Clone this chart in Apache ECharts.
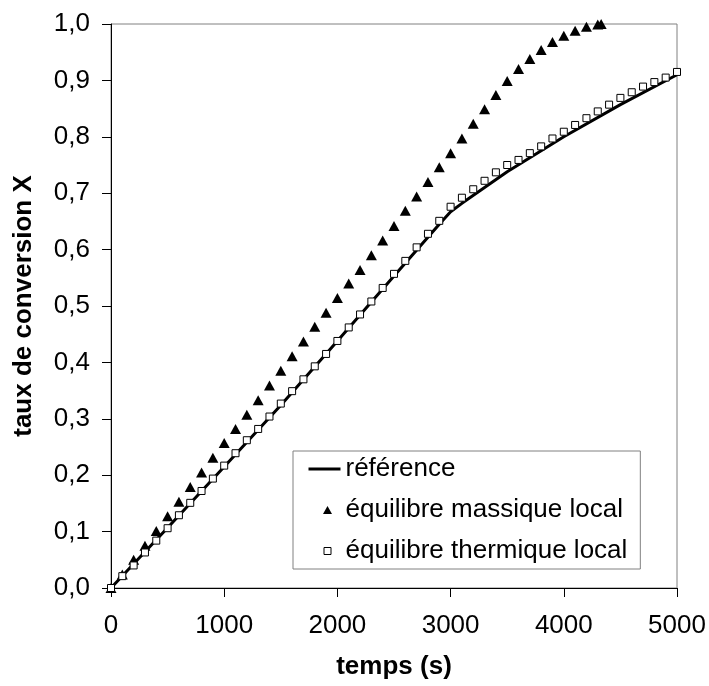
<!DOCTYPE html>
<html>
<head>
<meta charset="utf-8">
<script src="https://cdn.jsdelivr.net/npm/echarts@6/dist/echarts.min.js"></script>
<style>
html,body{margin:0;padding:0;background:#fff;}
#chart{width:709px;height:686px;}
</style>
</head>
<body>
<div id="chart"></div>
<script>
// Reference curve (time s, conversion X)
const refTime = [0, 500, 1000, 1500, 2000, 2500, 2900, 3000, 3100, 3500, 4000, 4500, 5000];
const refX    = [0, 0.107, 0.215, 0.324, 0.438, 0.553, 0.645, 0.667, 0.682, 0.738, 0.800, 0.857, 0.910];

// équilibre massique local (triangles)
const massTime = [0,100,200,300,400,500,600,700,800,900,1000,1100,1200,1300,1400,1500,1600,1700,1800,1900,2000,2100,2200,2300,2400,2500,2600,2700,2800,2900,3000,3100,3200,3300,3400,3500,3600,3700,3800,3900,4000,4100,4200,4300,4330];
const massX    = [0,0.024,0.050,0.075,0.101,0.127,0.153,0.179,0.205,0.231,0.257,0.282,0.307,0.333,0.359,0.385,0.411,0.437,0.463,0.488,0.514,0.540,0.564,0.590,0.616,0.642,0.669,0.694,0.720,0.746,0.771,0.797,0.823,0.849,0.874,0.899,0.920,0.938,0.954,0.968,0.979,0.988,0.995,0.999,1.0];

// équilibre thermique local (open squares)
const thermTime = [0,100,200,300,400,500,600,700,800,900,1000,1100,1200,1300,1400,1500,1600,1700,1800,1900,2000,2100,2200,2300,2400,2500,2600,2700,2800,2900,3000,3100,3200,3300,3400,3500,3600,3700,3800,3900,4000,4100,4200,4300,4400,4500,4600,4700,4800,4900,5000];
const thermX    = [0,0.021,0.040,0.063,0.084,0.106,0.129,0.151,0.172,0.194,0.217,0.239,0.262,0.282,0.304,0.327,0.349,0.370,0.393,0.415,0.438,0.462,0.485,0.508,0.532,0.557,0.580,0.604,0.628,0.651,0.676,0.692,0.707,0.722,0.737,0.750,0.759,0.771,0.783,0.797,0.809,0.821,0.833,0.845,0.857,0.869,0.879,0.889,0.897,0.905,0.915];

// Tick settings
const xMin = 0, xMax = 5000, xStep = 1000;
const yMin = 0, yMax = 1, yStep = 0.1;

const seriesNames = ['référence', 'équilibre massique local', 'équilibre thermique local'];
const xTitle = 'temps (s)';
const yTitle = 'taux de conversion X';

const zip = (a, b) => a.map((v, i) => [v, b[i]]);
const FONT = '"Liberation Sans", Arial, sans-serif';

// legend icons: 32x9 boxes (corner moveTo's fix the bounding box)
const BOX = 'M0,0 M32,9 ';
const iconLine = 'path://' + BOX + 'M0,3 L32,3 L32,6 L0,6 Z';
const iconTri  = 'path://' + BOX + 'M14.5,8.5 L19,0.5 L23.5,8.5 Z';
const iconSq   = 'path://' + BOX + 'M15.5,1 L22.5,1 L22.5,8 L15.5,8 Z';

const chart = echarts.init(document.getElementById('chart'), null, {renderer: 'canvas'});
chart.setOption({
  animation: false,
  backgroundColor: '#ffffff',
  grid: {
    left: 111, right: 32, top: 24, bottom: 98,
    show: true, borderColor: '#808080', borderWidth: 1, backgroundColor: 'transparent'
  },
  xAxis: {
    type: 'value', min: xMin, max: xMax, interval: xStep,
    name: xTitle, nameLocation: 'middle', nameGap: 66,
    nameTextStyle: {fontFamily: FONT, fontSize: 26, fontWeight: 'bold', color: '#000'},
    axisLine: {show: true, onZero: false, lineStyle: {color: '#000', width: 1}},
    axisTick: {show: true, inside: false, length: 9, lineStyle: {color: '#000'}},
    axisLabel: {fontFamily: FONT, fontSize: 26, color: '#000', margin: 25,
      formatter: v => String(Math.round(v))},
    splitLine: {show: false}
  },
  yAxis: {
    type: 'value', min: yMin, max: yMax, interval: yStep,
    name: yTitle, nameLocation: 'middle', nameGap: 74, nameRotate: 90,
    nameTextStyle: {fontFamily: FONT, fontSize: 26, fontWeight: 'bold', color: '#000'},
    axisLine: {show: true, onZero: false, lineStyle: {color: '#000', width: 1}},
    axisTick: {show: true, inside: false, length: 9, lineStyle: {color: '#000'}},
    axisLabel: {fontFamily: FONT, fontSize: 26, color: '#000', margin: 21,
      formatter: v => v.toFixed(1).replace('.', ',')},
    splitLine: {show: false}
  },
  legend: {
    orient: 'vertical', left: 293, top: 451,
    padding: [5, 13, 5, 15], itemGap: 15, itemWidth: 32, itemHeight: 9,
    borderColor: '#808080', borderWidth: 1, backgroundColor: '#ffffff',
    textStyle: {fontFamily: FONT, fontSize: 26, color: '#000'},
    data: [
      {name: seriesNames[0], icon: iconLine, itemStyle: {color: '#000', borderWidth: 0}},
      {name: seriesNames[1], icon: iconTri, itemStyle: {color: '#000', borderWidth: 0}},
      {name: seriesNames[2], icon: iconSq, itemStyle: {color: '#fff', borderColor: '#000', borderWidth: 1}}
    ]
  },
  series: [
    {
      name: seriesNames[0], type: 'line', data: zip(refTime, refX),
      showSymbol: false, symbol: 'none', smooth: false,
      lineStyle: {color: '#000', width: 3}, itemStyle: {color: '#000'}, z: 2
    },
    {
      name: seriesNames[1], type: 'scatter', data: zip(massTime, massX),
      symbol: 'triangle', symbolSize: [11, 10],
      itemStyle: {color: '#000', opacity: 1}, z: 3
    },
    {
      name: seriesNames[2], type: 'scatter', data: zip(thermTime, thermX),
      symbol: 'rect', symbolSize: 7,
      itemStyle: {color: '#fff', borderColor: '#000', borderWidth: 1, opacity: 1}, z: 4
    }
  ]
});
</script>
</body>
</html>
